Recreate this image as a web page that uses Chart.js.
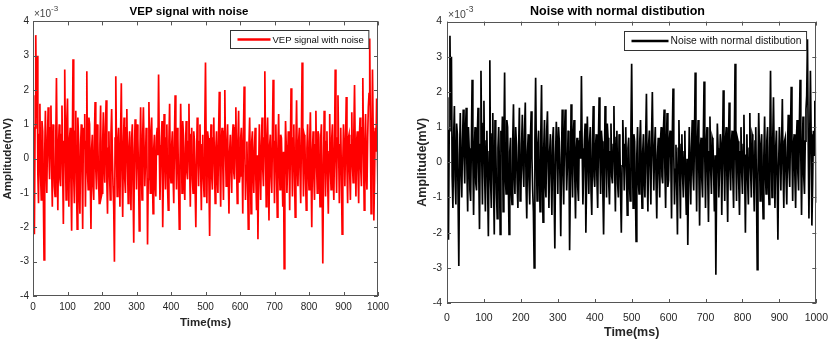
<!DOCTYPE html>
<html>
<head>
<meta charset="utf-8">
<script src="https://cdn.jsdelivr.net/npm/chart.js@4.4.1/dist/chart.umd.min.js"></script>
<style>
  body { margin: 0; background: #fff; }
  canvas { position: absolute; top: 0; }
  #left { left: 0; }
  #right { left: 415px; }
</style>
</head>
<body>
<canvas id="left" width="415" height="344"></canvas>
<canvas id="right" width="422" height="344"></canvas>
<script>
// sampling step of the plotted series (ms)
const sampleStepMs = 2;
const xTicks = [0, 100, 200, 300, 400, 500, 600, 700, 800, 900, 1000];
const yTicks = [-4, -3, -2, -1, 0, 1, 2, 3, 4];

// amplitude in units of 1e-3 mV (same trace in both panels)
// one row = 40 ms
const amplitude = [
  1.85, 0.3, -2.2, 0.9, 3.6, 1.2, 3.0, -0.4, -1.3, 0.7, 1.6, -0.5, -1.2, 1.1, 0.8, -1.0, -2.95, 0.2, 1.4, -0.3,
  -1.0, 0.6, 1.5, 0.2, -0.6, 0.9, 1.55, -0.2, -1.4, 1.0, 0.4, -0.8, -1.1, 0.5, 2.35, 0.1, -1.5, 0.4, 1.0, -0.6,
  -0.8, 0.7, 1.55, -0.3, -1.9, 0.5, 2.6, 0.2, -1.2, 1.1, 1.75, -0.4, -1.4, 0.6, 0.9, -0.7, -2.1, 0.3, 2.9, -0.5,
  -1.3, 0.8, 1.4, -0.6, -2.05, 1.2, 0.6, -0.9, -1.6, 0.4, 1.0, -0.2, -2.05, 0.9, 0.3, 1.3, -1.4, 0.5, 2.55, -0.4,
  -0.9, 1.2, 1.0, -0.5, -2.05, 0.3, 0.7, -0.8, -1.2, 0.6, 1.65, -0.3, -0.9, 1.0, 0.5, -0.6, -1.3, 0.4, 1.55, -1.1,
  -1.0, 0.5, 1.35, -0.2, -0.7, 0.9, 1.7, -0.6, -1.6, 0.3, 0.8, -0.5, -1.2, 0.7, 1.45, 0.1, -0.8, -1.4, -3.0, 0.6,
  2.4, 0.2, -1.1, 0.5, 0.9, -0.3, -1.4, 0.8, 2.2, -0.4, -1.7, 0.4, 1.2, -0.6, -1.0, 0.9, 1.45, -0.2, -1.3, 0.3,
  0.8, -0.4, -1.5, 0.6, 1.0, -0.8, -2.45, 0.2, 1.15, 0.4, -0.9, 1.0, 0.6, -0.5, -2.1, 0.1, 1.5, -0.3, -1.2, 0.7,
  1.5, 0.3, -0.8, -0.1, 0.9, 0.5, -2.5, -0.6, 1.65, 0.2, -1.0, 0.8, 1.2, -0.4, -1.6, 0.3, 0.7, -0.7, -1.1, 0.6,
  0.9, 0.1, 2.45, 0.4, -1.2, -0.2, 0.6, 1.1, -2.0, -0.5, 1.3, 0.2, -0.9, 0.6, 1.0, -0.8, -1.5, 0.5, 1.6, -0.4,
  -0.7, 0.4, 0.8, -0.5, -1.3, 0.6, 1.85, 0.2, -0.9, 0.9, 0.6, -0.8, -2.05, -0.3, 1.6, 0.4, -1.0, 1.1, 0.7, -0.6,
  -1.2, 0.3, 1.1, -0.4, -0.6, 0.5, 1.6, -0.2, -1.4, 0.7, 0.9, -0.6, -1.0, 0.8, 0.5, -0.9, -2.0, -0.1, 1.2, 0.4,
  -0.8, 0.5, 1.0, -0.3, -1.5, 0.4, 0.7, -0.6, -1.1, 0.9, 2.8, 0.3, -1.3, 0.8, 0.6, -0.7, -2.25, 0.2, 1.0, -0.5,
  -0.9, 0.6, 1.2, -0.2, -1.3, 0.3, 0.8, -0.5, -1.0, 0.7, 1.95, -0.3, -1.4, 0.5, 0.9, -0.1, -1.2, 0.8, 2.0, 0.2,
  -0.8, 0.4, 1.0, -0.5, -1.6, 0.2, 0.7, -0.3, -1.0, 0.6, 1.0, -0.4, -0.6, 0.9, 1.5, -0.2, -1.3, 0.5, 1.4, -0.7,
  -0.5, 0.6, 0.9, 0.1, -1.6, 0.7, 2.1, 0.3, -1.2, -0.2, 0.5, -0.6, -2.05, 0.4, 1.2, -0.3, -1.6, 0.5, 0.8, -0.4,
  -1.0, 0.3, 0.9, -0.6, -1.5, 0.1, -2.35, -0.5, 1.0, -0.2, -1.2, 0.4, 1.2, -0.3, -0.8, 0.6, 2.55, 0.2, -1.4, 0.5,
  1.2, -0.3, -1.8, 0.4, 0.7, -0.5, -1.0, 0.6, 2.3, 0.2, -1.3, 0.5, 1.0, -0.4, -1.7, 0.3, 1.3, -0.2, -0.9, 0.7,
  0.6, -0.3, -1.4, 0.2, -3.2, -0.6, 1.1, 0.4, -1.0, -0.2, 0.8, 0.5, -1.5, 0.3, 2.05, 0.1, -1.1, 0.6, 1.0, -0.5,
  -1.7, 0.4, 1.7, -0.2, -0.8, 0.5, 0.9, -0.4, -1.3, 0.6, 2.8, 0.2, -1.1, 0.7, 0.6, -0.6, -1.5, 0.3, 1.0, -0.3,
  -0.9, 0.5, 1.35, -0.3, -2.0, 0.2, 0.8, -0.5, -1.2, 0.4, 1.4, -0.2, -1.0, 0.8, 0.7, -0.4, -1.4, 0.6, 1.0, -0.8,
  -3.05, -0.4, 1.4, 0.3, -1.1, 0.5, 0.8, -0.6, -1.6, 0.2, 1.3, -0.3, -0.9, 0.6, 1.0, -0.5, -1.2, 0.4, 2.6, 0.1,
  -1.0, 0.6, 1.85, 0.2, -1.3, 0.4, 0.9, -0.5, -2.2, -0.1, 1.0, 0.3, -0.8, 0.5, 1.8, -0.2, -1.3, 0.6, 0.7, -0.4,
  -1.2, 0.4, 1.35, -0.2, -0.7, 0.8, 2.15, 0.3, -1.1, 0.5, 0.8, -0.4, -1.3, 0.6, 1.2, -0.3, -0.8, 0.9, 2.35, 0.2,
  -1.5, 0.3, 1.3, -0.4, -0.9, 0.6, 1.5, 1.9, 3.5, 0.7, -1.6, 0.5, 2.6, 0.8, -1.8, -0.6, 0.9, 0.2, 1.75, 0.4,
  -1.15
];

Chart.defaults.font.family = "'Liberation Sans', Arial, sans-serif";
Chart.defaults.color = '#262626';

// MATLAB style box: frame, inward ticks, x10^-3 note and boxed legend
const matlabBox = {
  id: 'matlabBox',
  afterDatasetsDraw(chart, args, opts) {
    const ctx = chart.ctx;
    const a = chart.chartArea;
    const xs = chart.scales.x, ys = chart.scales.y;
    ctx.save();
    ctx.strokeStyle = '#555';
    ctx.lineWidth = 1;
    ctx.strokeRect(Math.round(a.left) + 0.5, Math.round(a.top) + 0.5,
      Math.round(a.width) - 1, Math.round(a.height) - 1);
    ctx.beginPath();
    xs.ticks.forEach(t => {
      const px = Math.round(xs.getPixelForValue(t.value)) + 0.5;
      ctx.moveTo(px, a.bottom); ctx.lineTo(px, a.bottom - 4);
      ctx.moveTo(px, a.top); ctx.lineTo(px, a.top + 4);
    });
    ys.ticks.forEach(t => {
      const py = Math.round(ys.getPixelForValue(t.value)) + 0.5;
      ctx.moveTo(a.left, py); ctx.lineTo(a.left + 4, py);
      ctx.moveTo(a.right, py); ctx.lineTo(a.right - 4, py);
    });
    ctx.stroke();

    // exponent note
    ctx.fillStyle = '#444';
    ctx.textBaseline = 'alphabetic';
    ctx.font = opts.expSize + "px 'Liberation Sans', Arial";
    ctx.fillText('\u00d710', a.left + 1, a.top - 4);
    const w10 = ctx.measureText('\u00d710').width;
    ctx.font = (opts.expSize - 2) + "px 'Liberation Sans', Arial";
    ctx.fillText('-3', a.left + 1 + w10, a.top - 10);

    // legend
    const ds = chart.data.datasets[0];
    ctx.font = opts.legendSize + "px 'Liberation Sans', Arial";
    const tw = ctx.measureText(ds.label).width;
    const lineLen = opts.lineLen;
    const bw = 7 + lineLen + 2 + tw + 5;
    const bh = opts.legendH;
    const bx = Math.round(a.right - 10 - bw) + 0.5;
    const by = Math.round(a.top + 9) + 0.5;
    ctx.fillStyle = '#fff';
    ctx.fillRect(bx, by, bw, bh);
    ctx.strokeStyle = '#333';
    ctx.lineWidth = 1;
    ctx.strokeRect(bx, by, bw, bh);
    ctx.strokeStyle = ds.borderColor;
    ctx.lineWidth = 2.5;
    ctx.beginPath();
    ctx.moveTo(bx + 7, by + bh / 2);
    ctx.lineTo(bx + 7 + lineLen, by + bh / 2);
    ctx.stroke();
    ctx.fillStyle = '#111';
    ctx.textBaseline = 'middle';
    ctx.fillText(ds.label, bx + 7 + lineLen + 2, by + bh / 2 + 0.5);
    ctx.restore();
  }
};

function makeChart(id, title, label, color, f) {
  const points = amplitude.map((v, i) => ({ x: i * sampleStepMs, y: v }));
  return new Chart(document.getElementById(id), {
    type: 'line',
    data: {
      datasets: [{
        label: label,
        data: points,
        borderColor: color,
        borderWidth: 1.7,
        pointRadius: 0,
        tension: 0,
        fill: false
      }]
    },
    options: {
      responsive: false,
      animation: false,
      layout: { padding: { left: 0, right: f.padRight, top: 0, bottom: 0 } },
      scales: {
        x: {
          type: 'linear',
          min: 0, max: 1000,
          afterBuildTicks: s => { s.ticks = xTicks.map(v => ({ value: v })); },
          afterFit: s => { s.height = f.xHeight; },
          grid: { display: false, drawTicks: false },
          border: { display: false },
          ticks: { font: { size: f.tickSize }, padding: f.xTickPad, maxRotation: 0,
                   callback: v => String(v) },
          title: { display: true, text: 'Time(ms)', color: '#262626',
                   font: { size: f.labelSize, weight: 'bold' }, padding: { top: 0, bottom: f.xTitleBottom } }
        },
        y: {
          min: -4, max: 4,
          afterBuildTicks: s => { s.ticks = yTicks.map(v => ({ value: v })); },
          afterFit: s => { s.width = f.yWidth; },
          grid: { display: false, drawTicks: false },
          border: { display: false },
          ticks: { font: { size: f.tickSize }, padding: f.yTickPad, callback: v => String(v) },
          title: { display: true, text: 'Amplitude(mV)', color: '#262626',
                   font: { size: f.labelSize, weight: 'bold' }, padding: { top: f.yTitleTop, bottom: 0 } }
        }
      },
      plugins: {
        legend: { display: false },
        tooltip: { enabled: false },
        title: {
          display: true, text: title, color: '#000',
          font: { size: f.titleSize, weight: 'bold' },
          padding: { top: f.titleTop, bottom: f.titleBottom }
        },
        matlabBox: { expSize: f.expSize, legendSize: f.legendSize, lineLen: f.lineLen, legendH: f.legendH }
      }
    },
    plugins: [matlabBox]
  });
}

makeChart('left', 'VEP signal with noise', 'VEP signal with noise', '#ff0000', {
  padRight: 37, xHeight: 48, yWidth: 33, tickSize: 10, labelSize: 11.5, titleSize: 11.5,
  xTickPad: 5, yTickPad: 4, xTitleBottom: 14, yTitleTop: 1, titleTop: 5, titleBottom: 2.6,
  expSize: 10, legendSize: 9.5, lineLen: 33, legendH: 18
});

makeChart('right', 'Noise with normal distibution', 'Noise with normal distibution', '#000000', {
  padRight: 17, xHeight: 41, yWidth: 32, tickSize: 10.5, labelSize: 12.5, titleSize: 12.5,
  xTickPad: 9, yTickPad: 5, xTitleBottom: 4, yTitleTop: 0, titleTop: 4, titleBottom: 2.6,
  expSize: 10.5, legendSize: 10.3, lineLen: 37, legendH: 19
});
</script>
</body>
</html>
